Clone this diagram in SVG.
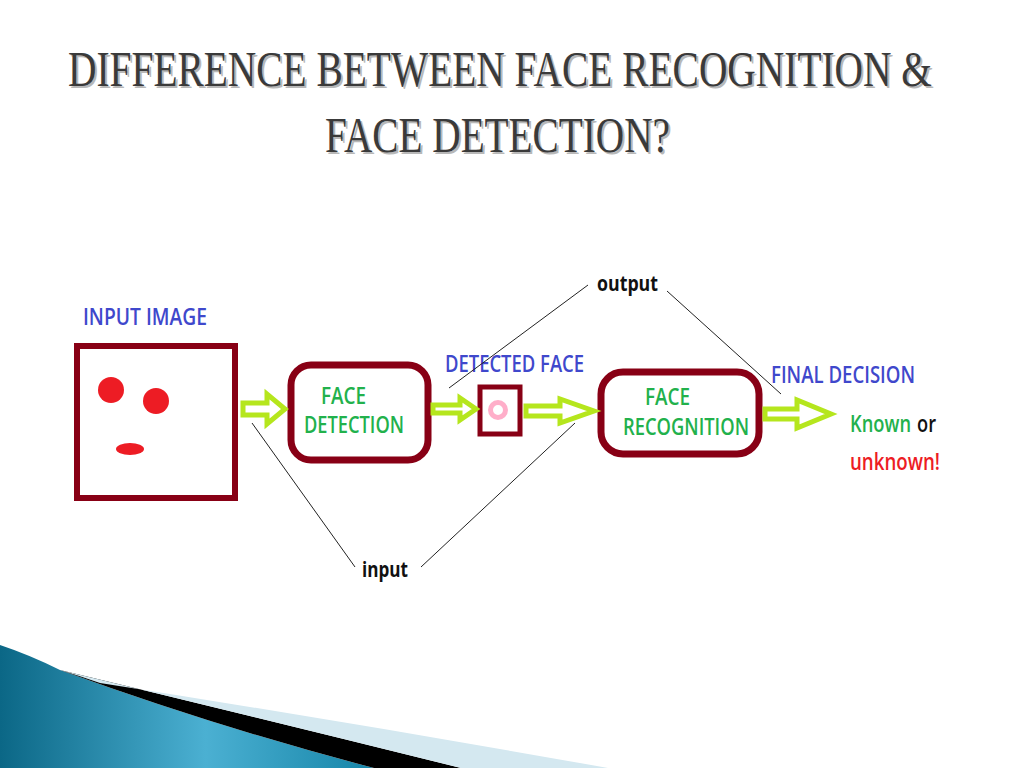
<svg xmlns="http://www.w3.org/2000/svg" width="1024" height="768" viewBox="0 0 1024 768">
<defs>
<style>
.title{font-family:"Liberation Serif",serif;font-size:50px;fill:#3a3a3a}
.tshadow{font-family:"Liberation Serif",serif;font-size:50px;fill:#b8b8b8}
.lbl{font-family:"Open Sans","Liberation Sans",Arial,sans-serif;font-size:24px;font-weight:600}
.blue{fill:#3f48cc}
.green{fill:#22b14c}
.box{fill:#fff;stroke:#880015;stroke-width:7}
.arrow{fill:#fff;stroke:#b5e61d;stroke-width:5;stroke-linejoin:miter}
.lead{stroke:#222;stroke-width:1;fill:none}
.note{font-family:"Open Sans","Liberation Sans",Arial,sans-serif;font-size:22px;font-weight:700;fill:#111}
</style>
<linearGradient id="teal" x1="0" y1="0" x2="1" y2="0">
<stop offset="0" stop-color="#0b6786"/>
<stop offset="0.55" stop-color="#4bb0d2"/>
<stop offset="1" stop-color="#1685a8"/>
</linearGradient>
</defs>
<rect width="1024" height="768" fill="#fff"/>

<g id="title">
<text class="tshadow" x="70" y="88" textLength="864" lengthAdjust="spacingAndGlyphs">DIFFERENCE BETWEEN FACE RECOGNITION &amp;</text>
<text class="title" x="68" y="86" textLength="864" lengthAdjust="spacingAndGlyphs">DIFFERENCE BETWEEN FACE RECOGNITION &amp;</text>
<text class="tshadow" x="327" y="154" textLength="345" lengthAdjust="spacingAndGlyphs">FACE DETECTION?</text>
<text class="title" x="325" y="152" textLength="345" lengthAdjust="spacingAndGlyphs">FACE DETECTION?</text>
</g>

<g id="decoration">
<path d="M0,645 Q30,655 60,670 Q220,728 374,768 L0,768 Z" fill="url(#teal)"/>
<path d="M60,670 Q260,718 461,768 L374,768 Q220,728 60,670 Z" fill="#000"/>
<path d="M100,683 Q350,722 608,768 L461,768 Q260,718 60,670 Q80,676 100,683 Z" fill="#d4e8f0"/>
</g>

<g id="input-image">
<text class="lbl blue" x="83" y="325" textLength="124" lengthAdjust="spacingAndGlyphs">INPUT IMAGE</text>
<rect x="77" y="346" width="158" height="152" fill="#fff" stroke="#880015" stroke-width="6"/>
<circle cx="111" cy="390" r="13" fill="#ed1c24"/>
<circle cx="156" cy="401" r="13" fill="#ed1c24"/>
<ellipse cx="130" cy="449" rx="14" ry="6" fill="#ed1c24"/>
</g>

<g id="face-detection">
<rect class="box" x="291" y="365" width="137" height="95" rx="20"/>
<text class="lbl green" x="321" y="404" textLength="45" lengthAdjust="spacingAndGlyphs">FACE</text>
<text class="lbl green" x="304" y="433" textLength="100" lengthAdjust="spacingAndGlyphs">DETECTION</text>
</g>

<g id="detected-face">
<text class="lbl blue" x="445" y="372" textLength="139" lengthAdjust="spacingAndGlyphs">DETECTED FACE</text>
<rect x="480" y="387" width="40" height="47" fill="#fff" stroke="#880015" stroke-width="5"/>
<circle cx="498" cy="410" r="7.5" fill="none" stroke="#ffaec9" stroke-width="5"/>
</g>

<g id="face-recognition">
<rect class="box" x="601" y="372" width="158" height="82" rx="22"/>
<text class="lbl green" x="645" y="405" textLength="45" lengthAdjust="spacingAndGlyphs">FACE</text>
<text class="lbl green" x="623" y="435" textLength="126" lengthAdjust="spacingAndGlyphs">RECOGNITION</text>
</g>

<g id="final-decision">
<text class="lbl blue" x="771" y="383" textLength="144" lengthAdjust="spacingAndGlyphs">FINAL DECISION</text>
<text class="lbl green" x="850" y="432" textLength="61" lengthAdjust="spacingAndGlyphs">Known</text>
<text class="lbl" x="917" y="432" fill="#111" textLength="19" lengthAdjust="spacingAndGlyphs">or</text>
<text class="lbl" x="850" y="470" fill="#ed1c24" textLength="90" lengthAdjust="spacingAndGlyphs">unknown!</text>
</g>

<g id="connectors">
<polygon class="arrow" points="243,403 267,403 267,394 285,409 267,424 267,415 243,415"/>
<polygon class="arrow" points="433,405 460,405 460,398 476,409 460,420 460,413 433,413"/>
<polygon class="arrow" points="526,406 560,406 560,399 594,411 560,423 560,416 526,416"/>
<polygon class="arrow" points="765,409 797,409 797,400 831,414 797,428 797,419 765,419"/>
<line class="lead" x1="588" y1="285" x2="449" y2="388"/>
<line class="lead" x1="667" y1="291" x2="781" y2="394"/>
<line class="lead" x1="252" y1="423" x2="355" y2="567"/>
<line class="lead" x1="421" y1="567" x2="575" y2="423"/>
</g>

<g id="labels">
<text class="note" x="597" y="291" textLength="61" lengthAdjust="spacingAndGlyphs">output</text>
<text class="note" x="362" y="577" textLength="46" lengthAdjust="spacingAndGlyphs">input</text>
</g>
</svg>
